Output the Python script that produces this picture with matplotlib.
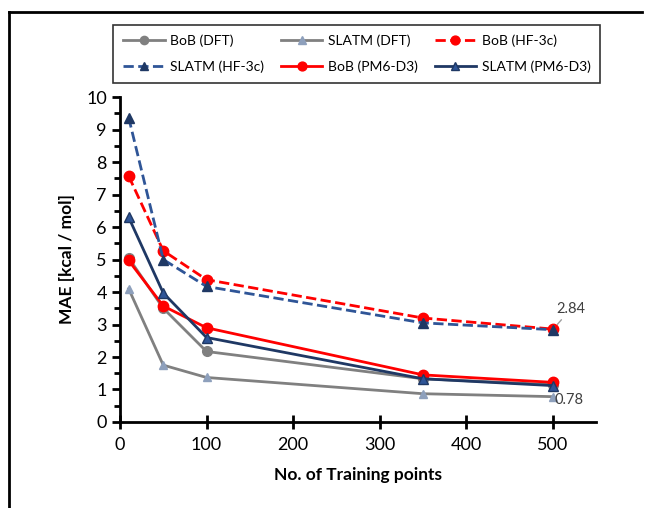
import matplotlib
matplotlib.use("Agg")
import matplotlib.pyplot as plt
from matplotlib.lines import Line2D
from matplotlib.ticker import MultipleLocator

plt.rcParams['font.family'] = ['Lato', 'DejaVu Sans']

x = [10, 50, 100, 350, 500]
bob_dft = [5.05, 3.50, 2.17, 1.33, 1.15]
slatm_dft = [4.10, 1.75, 1.37, 0.87, 0.78]
bob_hf3c = [7.57, 5.27, 4.38, 3.20, 2.86]
slatm_hf3c = [9.37, 5.00, 4.17, 3.05, 2.84]
bob_pm6 = [4.97, 3.57, 2.90, 1.45, 1.22]
slatm_pm6 = [6.30, 3.97, 2.60, 1.33, 1.12]

fig = plt.figure(figsize=(6.51, 5.08), dpi=100)
ax = fig.add_axes([0.1843, 0.1693, 0.7312, 0.6397])

h1, = ax.plot(x, bob_dft, '-o', color='#808080', lw=2, ms=7, label='BoB (DFT)')
h2, = ax.plot(x, slatm_dft, '-^', color='#808080', mfc='#8EA0BC', mec='#8EA0BC', lw=2, ms=6, label='SLATM (DFT)')
h3, = ax.plot(x, bob_hf3c, '--o', color='#FF0000', lw=2, ms=7.5, label='BoB (HF-3c)')
h4, = ax.plot(x, slatm_hf3c, '--^', color='#2F5597', mfc='#1F3864', mec='#1F3864', lw=2, ms=7, label='SLATM (HF-3c)')
h5, = ax.plot(x, bob_pm6, '-o', color='#FF0000', lw=2, ms=7.5, label='BoB (PM6-D3)')
h6, = ax.plot(x, slatm_pm6, '-^', color='#1F3864', mfc='#2F5597', mec='#1F3864', lw=2, ms=7, label='SLATM (PM6-D3)')

ax.set_xlim(0, 550)
ax.set_ylim(0, 10)
ax.set_xticks([0, 100, 200, 300, 400, 500])
ax.yaxis.set_major_locator(MultipleLocator(1))
ax.yaxis.set_minor_locator(MultipleLocator(0.5))
for s in ['top', 'right']:
    ax.spines[s].set_visible(False)
for s in ['left', 'bottom']:
    ax.spines[s].set_linewidth(2)
ax.tick_params(axis='x', direction='inout', length=10, width=2, labelsize=13, pad=6)
ax.tick_params(axis='y', which='major', direction='out', length=6, width=2, labelsize=13)
ax.tick_params(axis='y', which='minor', direction='out', length=4, width=2)
ax.set_xlabel('No. of Training points', fontsize=12.5, fontweight='bold', labelpad=10)
ax.set_ylabel('MAE [kcal / mol]', fontsize=12.5, fontweight='bold', labelpad=8)

ax.annotate('2.84', xy=(x[-1], slatm_hf3c[-1]), xytext=(521, 3.48),
            fontsize=10.5, color='#404040', ha='center', va='center',
            arrowprops=dict(arrowstyle='-', color='#A0A0A0', lw=1, shrinkA=1, shrinkB=5))
ax.annotate('0.78', xy=(x[-1], slatm_dft[-1]), xytext=(x[-1] + 2, 0.68),
            fontsize=10.5, color='#404040', va='center')

leg = fig.legend(handles=[h1, h4, h2, h5, h3, h6], ncol=3,
                 loc='center', bbox_to_anchor=(0.548, 0.894),
                 frameon=True, fancybox=False, edgecolor='black',
                 fontsize=10, handlelength=3.0, handletextpad=0.4,
                 columnspacing=1.2, markerscale=0.85,
                 borderpad=0.7, labelspacing=0.95)
leg.get_frame().set_linewidth(1.2)

fig.add_artist(Line2D([9/651, 642/651], [1 - 12/508, 1 - 12/508], color='black', lw=2, transform=fig.transFigure))
fig.add_artist(Line2D([9/651, 9/651], [1 - 12/508, 0], color='black', lw=2, transform=fig.transFigure))

fig.savefig('out.png', dpi=100)
